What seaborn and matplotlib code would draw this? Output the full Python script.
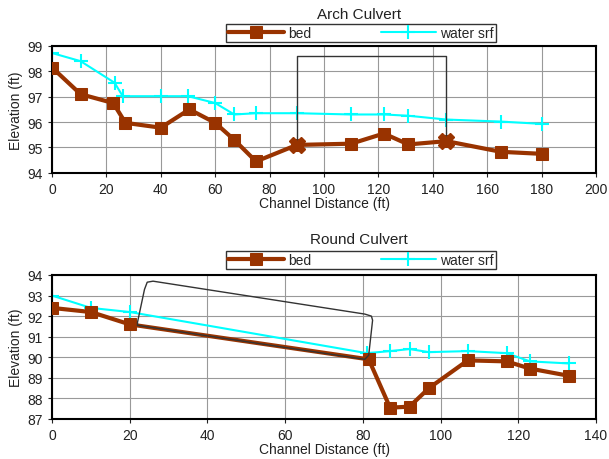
import matplotlib
matplotlib.use("Agg")
import matplotlib.pyplot as plt
import seaborn as sns

# Arch culvert profile
arch_x = [0, 10.5, 22.5, 27, 40, 50.5, 60, 67, 75, 90, 110, 122, 131, 145, 165, 180]
arch_bed = [98.15, 97.1, 96.75, 95.97, 95.78, 96.5, 95.97, 95.3, 94.45, 95.1, 95.15, 95.55, 95.12, 95.25, 94.83, 94.75]
arch_wx = [0, 10.5, 23, 26, 40, 50, 60, 67, 75, 90, 110, 122, 131, 145, 165, 180]
arch_wsrf = [98.72, 98.4, 97.55, 97.02, 97.02, 97.02, 96.75, 96.3, 96.35, 96.35, 96.3, 96.3, 96.25, 96.1, 96.02, 95.93]
arch_box_x = [90, 90, 145, 145]
arch_box_y = [95.1, 98.6, 98.6, 95.25]

# Round culvert profile
round_x = [0, 10, 20, 81.5, 87, 92, 97, 107, 117, 123, 133]
round_bed = [92.4, 92.2, 91.6, 89.9, 87.55, 87.6, 88.5, 89.85, 89.8, 89.45, 89.1]
round_wx = [0, 10, 20, 81, 87, 92, 97, 107, 117, 123, 133]
round_wsrf = [93.0, 92.4, 92.2, 90.2, 90.3, 90.4, 90.25, 90.3, 90.2, 89.8, 89.7]
round_pipe_x = [22.0, 80.5, 81.5, 82.5, 82.2, 80.5, 26.0, 24.5, 23.8, 22.0, 22.0]
round_pipe_y = [91.55, 89.9, 90.1, 91.8, 92.0, 92.1, 93.7, 93.65, 93.3, 91.7, 91.55]

sns.set_style("white")
plt.rcParams["font.family"] = ["Liberation Sans", "DejaVu Sans"]

bed_col = "#993300"
wat_col = "#00FFFF"
txt_col = "#222222"

fig = plt.figure(figsize=(6.09, 4.60), dpi=100)
ax1 = fig.add_axes([0.0854, 0.622, 0.8933, 0.276])
ax2 = fig.add_axes([0.0854, 0.087, 0.8933, 0.313])


def draw(ax, bx, by, wx, wy, px, py, xlim, ylim, xstep):
    ax.plot(px, py, color="#333333", lw=1.0, zorder=4)
    sns.lineplot(x=bx, y=by, ax=ax, sort=False, color=bed_col, lw=3,
                 marker="s", markersize=9, markeredgecolor=bed_col, label="bed", zorder=3)
    sns.lineplot(x=wx, y=wy, ax=ax, sort=False, color=wat_col, lw=1.5,
                 marker="+", markersize=10, markeredgewidth=1.5, markeredgecolor=wat_col,
                 label="water srf", zorder=2)
    ax.set_xlim(*xlim)
    ax.set_ylim(*ylim)
    ax.set_xticks(range(xlim[0], xlim[1] + 1, xstep))
    ax.set_yticks(range(ylim[0], ylim[1] + 1))
    ax.grid(True, color="#999999", lw=0.8)
    for s in ax.spines.values():
        s.set_color("black")
        s.set_linewidth(1.5)
    ax.tick_params(axis="both", labelsize=10, colors=txt_col, length=3, direction="out",
                   bottom=True, left=True)
    ax.set_xlabel("Channel Distance (ft)", fontsize=10, color=txt_col, labelpad=0)
    ax.set_ylabel("Elevation (ft)", fontsize=10, color=txt_col, labelpad=3)
    ax.get_legend().remove()


draw(ax1, arch_x, arch_bed, arch_wx, arch_wsrf, arch_box_x, arch_box_y, (0, 200), (94, 99), 20)
ax1.plot([90, 145], [95.1, 95.25], ls="none", marker="X", markersize=11, color=bed_col, zorder=5)
draw(ax2, round_x, round_bed, round_wx, round_wsrf, round_pipe_x, round_pipe_y, (0, 140), (87, 94), 20)

for ax, ytitle, yleg, title in [(ax1, 0.968, 0.926, "Arch Culvert"), (ax2, 0.478, 0.433, "Round Culvert")]:
    fig.text(0.59, ytitle, title, ha="center", va="center", fontsize=11, color=txt_col)
    h, l = ax.get_legend_handles_labels()
    leg = fig.legend(h, l, loc="center", bbox_to_anchor=(0.593, yleg), ncol=2, fontsize=10,
                     handlelength=4, columnspacing=5, frameon=True, fancybox=False,
                     borderpad=0.15, handletextpad=0.3)
    leg.get_frame().set_edgecolor("black")
    leg.get_frame().set_linewidth(1.0)

fig.savefig("out.png", dpi=100)
